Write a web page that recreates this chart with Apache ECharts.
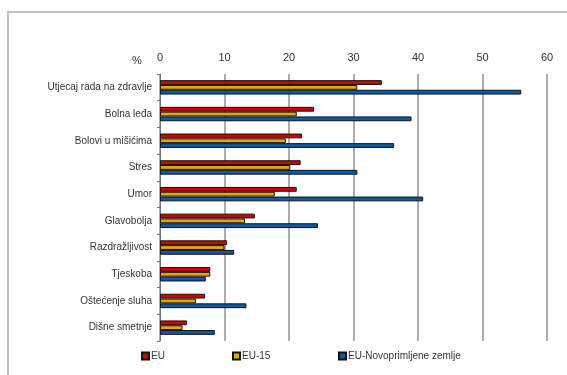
<!DOCTYPE html>
<html>
<head>
<meta charset="utf-8">
<script src="https://cdn.jsdelivr.net/npm/echarts@6/dist/echarts.min.js"></script>
<style>
  html, body { margin: 0; padding: 0; background: #fff; }
  #chart { width: 567px; height: 375px; }
</style>
</head>
<body>
<div id="chart"></div>
<script>
const categories = ['Utjecaj rada na zdravlje', 'Bolna leđa', 'Bolovi u mišićima', 'Stres', 'Umor',
  'Glavobolja', 'Razdražljivost', 'Tjeskoba', 'Oštećenje sluha', 'Dišne smetnje']
const seriesNames = ['EU', 'EU-15', 'EU-Novoprimljene zemlje']
const euValues = [34.4, 23.9, 22.0, 21.8, 21.2, 14.7, 10.4, 7.8, 7.0, 4.2]
const eu15Values = [30.6, 21.2, 19.5, 20.2, 17.8, 13.2, 10.0, 7.8, 5.6, 3.5]
const newValues = [56.0, 39.0, 36.3, 30.6, 40.8, 24.5, 11.5, 7.1, 13.4, 8.5]
const xTicks = [0, 10, 20, 30, 40, 50, 60]

const colors = ['#d40000', '#e8a600', '#0a5aa8']
const fontFamily = '"Liberation Sans", Arial, sans-serif'
const legendLefts = [136, 227, 333]

const chart = echarts.init(document.getElementById('chart'))

const seriesData = [euValues, eu15Values, newValues]

chart.setOption({
  backgroundColor: '#fff',
  animation: false,
  textStyle: { fontFamily: fontFamily },
  graphic: [
    {
      type: 'rect',
      shape: { x: 8, y: 12, width: 600, height: 400 },
      style: { fill: 'none', stroke: '#c0c0c0', lineWidth: 2 }
    },
    {
      type: 'text',
      left: 132,
      top: 55,
      style: { text: '%', fontSize: 11, fill: '#333', fontFamily: fontFamily }
    }
  ],
  // one legend per series so each item sits where it does in the picture
  legend: seriesNames.map((name, i) => ({
    data: [name],
    left: legendLefts[i],
    top: 346,
    itemWidth: 7,
    itemHeight: 7,
    icon: 'rect',
    textStyle: { fontSize: 10, color: '#333', padding: [0, 0, 0, -3] }
  })),
  grid: { left: 160, right: 20, top: 74, height: 267, containLabel: false },
  xAxis: {
    type: 'value',
    position: 'top',
    min: xTicks[0],
    max: xTicks[xTicks.length - 1],
    interval: 10,
    axisLine: { show: false },
    axisTick: { show: false },
    axisLabel: { color: '#333', fontSize: 11, margin: 11 },
    splitLine: { lineStyle: { color: '#999', width: 1.6 } }
  },
  yAxis: {
    type: 'category',
    data: categories,
    inverse: true,
    axisLine: { lineStyle: { color: '#777', width: 1 } },
    axisTick: { show: true, length: 3, inside: false, lineStyle: { color: '#777' } },
    axisLabel: { color: '#333', fontSize: 10, margin: 8 }
  },
  series: seriesNames.map((name, i) => ({
    name: name,
    type: 'bar',
    data: seriesData[i],
    barGap: '0%',
    barCategoryGap: '46%',
    itemStyle: { color: colors[i], borderColor: '#111', borderWidth: 1 }
  }))
})
</script>
</body>
</html>
